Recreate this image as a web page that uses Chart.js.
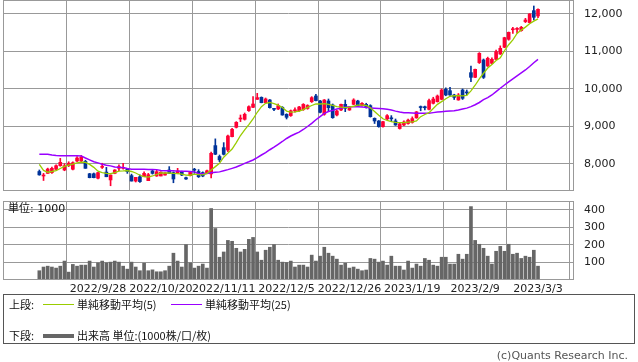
<!DOCTYPE html>
<html>
<head>
<meta charset="utf-8">
<script src="https://cdn.jsdelivr.net/npm/chart.js@4.4.1/dist/chart.umd.min.js"></script>
<style>
  body { margin: 0; background: #fff; }
  #wrap { position: relative; width: 638px; height: 362px; overflow: hidden;
          font-family: "DejaVu Sans", "Noto Sans CJK JP", sans-serif; font-size: 11px; color: #111; }
  canvas { position: absolute; left: 0; }
  .abs { position: absolute; white-space: nowrap; line-height: 12px; }
  .cjk { font-family: "Noto Sans CJK JP", sans-serif; }
  #legend { position: absolute; left: 3px; top: 294px; width: 630px; height: 48px; border: 1px solid #555; }
  .swatch { position: absolute; }
</style>
</head>
<body>
<div id="wrap">
  <canvas id="priceChart" width="638" height="191" style="top:0"></canvas>
  <canvas id="volChart" width="638" height="100" style="top:200px"></canvas>
  <div class="abs" style="left:8px;top:203px">単位: 1000</div>
  <div id="legend">
    <div class="abs cjk" style="left:5px;top:3px">上段:</div>
    <div class="swatch" style="left:39px;top:9px;width:31px;height:1px;background:#99cc00"></div>
    <div class="abs cjk" style="left:73px;top:3px">単純移動平均(5)</div>
    <div class="swatch" style="left:167px;top:9px;width:31px;height:1px;background:#9900ff"></div>
    <div class="abs cjk" style="left:201px;top:3px">単純移動平均(25)</div>
    <div class="abs cjk" style="left:5px;top:34px">下段:</div>
    <div class="swatch" style="left:39px;top:39px;width:31px;height:4px;background:#666"></div>
    <div class="abs cjk" style="left:73px;top:34px">出来高 単位:(1000株/口/枚)</div>
  </div>
  <div class="abs" style="right:10px;top:350px;color:#555">(c)Quants Research Inc.</div>
</div>
<script>
// x positions are trading-day indexes 0..119
const dateLabels = ["2022/9/28", "2022/10/20", "2022/11/11", "2022/12/5", "2022/12/26", "2023/1/19", "2023/2/9", "2023/3/3"];
const dateTickIdx = [14, 29, 44, 59, 74, 89, 104, 119];
const priceTicks = [8000, 9000, 10000, 11000, 12000];
const volumeTicks = [100, 200, 300, 400];

const opens = [
  7800, 7680, 7750, 7770, 7860, 7955, 7840, 7955, 7860, 8080,
  8080, 8070, 7740, 7740, 7620, 7910, 7785, 7575, 7750, 7885,
  7885, 7860, 7690, 7545, 7660, 7660, 7555, 7815, 7680, 7680,
  7705, 7840, 7770, 7750, 7795, 7635, 7690, 7850, 7800, 7770,
  7750, 7735, 8490, 8200, 8436, 8373, 8729, 8978, 9200, 9191,
  9422, 9511, 9725, 9778, 9636, 9707, 9470, 9467, 9511, 9325,
  9290, 9420, 9420, 9450, 9480, 9662, 9814, 9680, 9325, 9680,
  9573, 9307, 9440, 9591, 9440, 9591, 9680, 9556, 9591, 9556,
  9218, 9147, 8996, 9200, 9220, 9150, 8946, 9040, 9080, 9110,
  9230, 9520, 9510, 9458, 9618, 9662, 9725, 9991, 9955, 9840,
  9707, 9973, 9910, 10436, 10311, 10703, 10774, 10614, 10685, 10791,
  10933, 11111, 11325, 11580, 11590, 11556, 11796, 11770, 12089, 11947
];
const highs = [
  7840, 7750, 7890, 7920, 7980, 8150, 8010, 8060, 8060, 8200,
  8230, 8100, 7750, 7760, 7775, 8020, 7910, 7710, 7850, 7975,
  8020, 7870, 7730, 7645, 7710, 7790, 7750, 7840, 7830, 7790,
  7770, 7930, 7790, 7885, 7810, 7650, 7790, 7885, 7850, 7790,
  7840, 8320, 8670, 8240, 8570, 8773, 8950, 9130, 9307, 9360,
  9550, 9796, 9885, 9790, 9760, 9720, 9484, 9600, 9530, 9340,
  9440, 9500, 9540, 9610, 9580, 9796, 9858, 9700, 9720, 9733,
  9600, 9430, 9600, 9707, 9530, 9740, 9700, 9640, 9620, 9580,
  9230, 9160, 9140, 9320, 9290, 9200, 9100, 9150, 9200, 9257,
  9400, 9547, 9547, 9730, 9780, 9840, 10000, 10030, 10045, 9860,
  9880, 10000, 9973, 10614, 10530, 10970, 10800, 10850, 10830, 11040,
  11150, 11380, 11520, 11645, 11640, 11670, 11885, 12010, 12213, 12140
];
const lows = [
  7700, 7560, 7750, 7750, 7840, 7940, 7820, 7930, 7840, 8060,
  8060, 7885, 7630, 7630, 7600, 7880, 7660, 7420, 7740, 7820,
  7860, 7750, 7545, 7520, 7510, 7660, 7555, 7730, 7670, 7680,
  7700, 7750, 7500, 7740, 7690, 7590, 7680, 7750, 7640, 7660,
  7740, 7630, 8250, 8060, 8240, 8330, 8720, 8960, 9130, 9170,
  9400, 9500, 9720, 9630, 9620, 9490, 9420, 9450, 9300, 9200,
  9270, 9380, 9400, 9430, 9460, 9640, 9680, 9360, 9300, 9396,
  9218, 9280, 9420, 9396, 9430, 9580, 9540, 9540, 9490, 9250,
  9080, 8980, 8980, 9180, 9130, 9030, 8930, 9020, 9060, 9090,
  9220, 9420, 9440, 9440, 9600, 9650, 9710, 9820, 9830, 9720,
  9700, 9720, 9840, 10196, 10300, 10680, 10280, 10600, 10670, 10780,
  10920, 11100, 11300, 11485, 11490, 11540, 11770, 11760, 11840, 11900
];
const closes = [
  7710, 7700, 7865, 7885, 7955, 8045, 7955, 8020, 8035, 8160,
  8180, 7885, 7635, 7635, 7770, 7930, 7660, 7705, 7840, 7930,
  7910, 7795, 7545, 7645, 7530, 7750, 7715, 7750, 7795, 7785,
  7760, 7750, 7600, 7815, 7705, 7600, 7775, 7835, 7660, 7680,
  7820, 8285, 8260, 8110, 8258, 8747, 8925, 9111, 9220, 9325,
  9529, 9600, 9769, 9636, 9734, 9502, 9458, 9556, 9307, 9245,
  9420, 9440, 9520, 9590, 9560, 9769, 9690, 9378, 9707, 9502,
  9236, 9413, 9591, 9485, 9502, 9707, 9556, 9618, 9502, 9262,
  9147, 8996, 9129, 9289, 9205, 9040, 9070, 9120, 9170, 9210,
  9390, 9505, 9500, 9690, 9733, 9813, 9973, 9840, 9840, 9778,
  9840, 9751, 9895, 10311, 10525, 10951, 10311, 10818, 10791, 10996,
  11085, 11369, 11511, 11600, 11605, 11645, 11840, 12000, 11911, 12125
];
const volumes = [
  53, 74, 79, 74, 68, 79, 108, 45, 89, 79,
  85, 85, 108, 74, 98, 108, 98, 102, 108, 102,
  79, 62, 102, 74, 53, 96, 53, 58, 47, 47,
  53, 79, 153, 108, 74, 202, 98, 68, 79, 91,
  68, 408, 294, 130, 160, 226, 221, 181, 160, 175,
  232, 243, 160, 113, 170, 187, 202, 113, 102, 100,
  108, 74, 85, 85, 74, 142, 108, 136, 187, 153,
  136, 119, 85, 96, 68, 74, 62, 53, 57, 123,
  119, 102, 108, 85, 136, 79, 79, 57, 108, 68,
  91, 79, 123, 113, 85, 79, 130, 130, 91, 91,
  147, 119, 147, 419, 226, 204, 181, 136, 91, 164,
  192, 164, 204, 147, 153, 123, 136, 130, 170, 79
];
const ma5 = [
  7990, 7830, 7780, 7800, 7823, 7880, 7935, 7970, 7995, 8030,
  8050, 8045, 7990, 7910, 7810, 7770, 7750, 7740, 7770, 7810,
  7815, 7825, 7800, 7760, 7700, 7665, 7650, 7680, 7720, 7760,
  7765, 7760, 7750, 7745, 7730, 7705, 7700, 7730, 7715, 7710,
  7750, 7840, 7930, 8020, 8180, 8290, 8400, 8570, 8760, 8910,
  9050, 9200, 9380, 9530, 9620, 9640, 9610, 9570, 9505, 9410,
  9385, 9390, 9410, 9450, 9510, 9560, 9600, 9600, 9610, 9590,
  9560, 9530, 9515, 9505, 9515, 9540, 9570, 9570, 9560, 9500,
  9400, 9300, 9205, 9160, 9130, 9110, 9102, 9102, 9115, 9125,
  9147, 9262, 9320, 9369, 9480, 9590, 9662, 9740, 9805, 9820,
  9822, 9815, 9830, 9950, 10100, 10270, 10420, 10560, 10650, 10760,
  10830, 11020, 11180, 11310, 11480, 11570, 11650, 11740, 11810, 11870
];
const ma25 = [
  8258, 8258, 8258, 8240, 8225, 8222, 8222, 8222, 8222, 8222,
  8215, 8160, 8110, 8060, 8030, 7995, 7965, 7950, 7920, 7911,
  7905, 7880, 7860, 7858, 7858, 7858, 7856, 7856, 7850, 7825,
  7822, 7822, 7820, 7810, 7805, 7804, 7800, 7790, 7742, 7740,
  7745, 7769, 7780, 7790, 7820, 7850, 7884, 7920, 7965, 8018,
  8060, 8107, 8170, 8240, 8302, 8380, 8450, 8525, 8600, 8680,
  8747, 8800, 8850, 8920, 9000, 9085, 9180, 9265, 9351, 9400,
  9430, 9467, 9490, 9511, 9525, 9529, 9529, 9520, 9510, 9490,
  9485, 9480, 9475, 9460, 9440, 9410, 9385, 9369, 9365, 9360,
  9355, 9351, 9351, 9351, 9370, 9385, 9395, 9405, 9413, 9420,
  9440, 9465, 9490, 9529, 9580, 9640, 9715, 9770, 9840, 9930,
  10020, 10107, 10190, 10270, 10350, 10430, 10507, 10600, 10700, 10791
];

const UP = "#ff0033";
const DOWN = "#003399";
const GRID = "#999999";
const TEXT = "#222222";
const tickFont = { family: "DejaVu Sans", size: 11 };

const idx = closes.map((_, i) => i);
const candleColors = closes.map((c, i) => (c >= opens[i] ? UP : DOWN));

// index range chosen so that day 14 sits on x=98 and day 119 on x=538
const X_MIN = -8.67;
const X_MAX = 127.59;

const boxPlugin = {
  id: "box",
  afterDraw(chart) {
    const { ctx, chartArea: a } = chart;
    ctx.save();
    ctx.strokeStyle = GRID;
    ctx.lineWidth = 1;
    ctx.strokeRect(a.left + 0.5, a.top + 0.5, a.right - a.left - 1, a.bottom - a.top - 1);
    ctx.restore();
  },
};

function noPad(s) {
  s.paddingTop = 0;
  s.paddingBottom = 0;
  s.paddingLeft = 0;
  s.paddingRight = 0;
}

function xScale(showLabels, height) {
  return {
    type: "linear",
    min: X_MIN,
    max: X_MAX,
    offset: false,
    grid: { color: GRID, drawTicks: false },
    border: { display: false },
    ticks: {
      display: showLabels,
      autoSkip: false,
      maxRotation: 0,
      padding: 3,
      color: TEXT,
      font: tickFont,
      callback: (v) => dateLabels[dateTickIdx.indexOf(v)] || "",
    },
    afterBuildTicks: (s) => { s.ticks = dateTickIdx.map((v) => ({ value: v })); },
    afterFit: (s) => { s.height = height; noPad(s); },
  };
}

function yScale(min, max, ticks, fmt) {
  return {
    position: "right",
    min,
    max,
    grid: { color: GRID, drawTicks: false },
    border: { display: false },
    ticks: { padding: 10, color: TEXT, font: tickFont, callback: fmt },
    afterBuildTicks: (s) => { s.ticks = ticks.map((v) => ({ value: v })); },
    afterFit: (s) => { s.width = 64; noPad(s); },
  };
}

new Chart(document.getElementById("priceChart"), {
  type: "bar",
  data: {
    datasets: [
      {
        type: "line",
        data: idx.map((i) => ({ x: i, y: ma5[i] })),
        borderColor: "#99cc00",
        borderWidth: 1.3,
        pointRadius: 0,
        order: 0,
      },
      {
        type: "line",
        data: idx.map((i) => ({ x: i, y: ma25[i] })),
        borderColor: "#9900ff",
        borderWidth: 1.5,
        pointRadius: 0,
        order: 1,
      },
      {
        data: idx.map((i) => ({ x: i, y: [lows[i], highs[i]] })),
        backgroundColor: candleColors,
        barThickness: 1,
        grouped: false,
        order: 3,
      },
      {
        data: idx.map((i) => ({ x: i, y: [opens[i], closes[i]] })),
        backgroundColor: candleColors,
        barThickness: 3,
        minBarLength: 1,
        grouped: false,
        order: 2,
      },
    ],
  },
  options: {
    responsive: false,
    animation: false,
    layout: { autoPadding: false, padding: { top: 0, left: 3, right: 0, bottom: 0 } },
    plugins: { legend: { display: false }, tooltip: { enabled: false } },
    scales: {
      x: xScale(false, 0),
      y: yScale(7280, 12373, priceTicks, (v) => v.toLocaleString("en-US")),
    },
  },
  plugins: [boxPlugin],
});

new Chart(document.getElementById("volChart"), {
  type: "bar",
  data: {
    datasets: [
      {
        data: idx.map((i) => ({ x: i, y: volumes[i] })),
        backgroundColor: "#666666",
        barThickness: 3,
      },
    ],
  },
  options: {
    responsive: false,
    animation: false,
    layout: { autoPadding: false, padding: { top: 1, left: 3, right: 0, bottom: 0 } },
    plugins: { legend: { display: false }, tooltip: { enabled: false } },
    scales: {
      x: xScale(true, 20),
      y: yScale(0, 451, volumeTicks, (v) => String(v)),
    },
  },
  plugins: [boxPlugin],
});
</script>
</body>
</html>
